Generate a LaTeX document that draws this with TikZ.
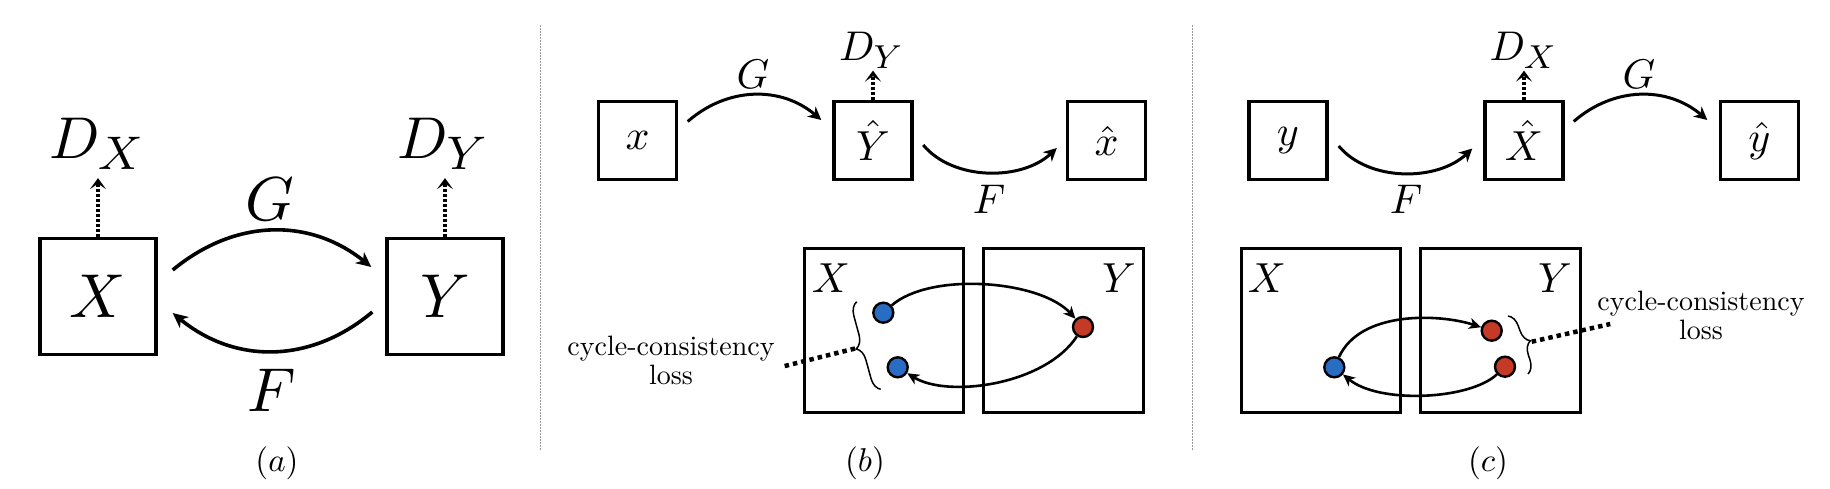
\documentclass[tikz,border=0pt]{standalone}
\usepackage{graphicx}
\usetikzlibrary{arrows.meta,decorations.pathreplacing,calc}
\definecolor{dotblue}{RGB}{40,108,196}
\definecolor{dotred}{RGB}{196,58,38}
\definecolor{sepgray}{RGB}{150,150,150}
\newcommand{\losstext}{\vbox{\baselineskip=10.4pt\halign{\hfil##\hfil\cr cycle-consistency\cr loss\cr}}}
\newcommand{\Dsub}[3]{\scalebox{#1}{$D_{\hbox{\fontsize{#2}{#2}\selectfont$#3$}}$}}
\tikzset{
  bigbox/.style={draw,line width=3.4pt,minimum width=116pt,minimum height=116pt,inner sep=0pt},
  smallbox/.style={draw,line width=3.4pt,minimum width=78pt,minimum height=78pt,inner sep=0pt},
  setbox/.style={draw,line width=3.4pt,inner sep=0pt},
  lbl/.style={inner sep=0pt,anchor=base},
  maparrow/.style={line width=3.6pt,-{Stealth[length=15pt,width=14pt,inset=4.5pt]}},
  maparrowsm/.style={line width=3pt,-{Stealth[length=13pt,width=13pt,inset=4pt]}},
  discarrow/.style={line width=3.4pt,dash pattern=on 2.6pt off 2.4pt,-{Stealth[length=11pt,width=16pt,inset=5.5pt]}},
  cyclearrow/.style={line width=2.6pt,-{Stealth[length=12pt,width=11pt,inset=3.5pt]}},
  dotnode/.style={circle,draw,line width=2.4pt,minimum size=20pt,inner sep=0pt},
  lossline/.style={line width=4.5pt,dash pattern=on 4.5pt off 4pt},
  bracestyle/.style={line width=1.5pt,decorate,decoration={brace,amplitude=13pt}},
  separator/.style={sepgray,line width=1pt,dash pattern=on 1.5pt off 1.5pt},
  losslabel/.style={inner sep=0pt},
}
\begin{document}
\begin{tikzpicture}[x=1pt,y=-1pt]
\fill[white] (0,0) rectangle (1830,488);
\useasboundingbox (0,0) rectangle (1830,488);

% separators
\coordinate (s1t) at (540,25); \coordinate (s1b) at (540,450);
\coordinate (s2t) at (1192,25); \coordinate (s2b) at (1192,450);
\draw[separator] (s1t) -- (s1b);
\draw[separator] (s2t) -- (s2b);

% ---------------- panel (a)
\node[bigbox] (X) at (98,296.5) {\scalebox{6.2}{$X$}};
\node[bigbox] (Y) at (445,296.5) {\scalebox{6.2}{$Y$}};
\node[lbl] (DX) at (97.5,158) {\Dsub{5.9}{8}{X}};
\node[lbl] (DY) at (443.5,158) {\Dsub{5.9}{8}{Y}};
\draw[discarrow] (X.north) -- ($(X.north |- DX.south)+(0,8)$);
\draw[discarrow] (Y.north) -- ($(Y.north |- DY.south)+(0,8)$);
\node[lbl] (Ga) at (270,220) {\scalebox{6.2}{$G$}};
\node[lbl] (Fa) at (272,411) {\scalebox{6.2}{$F$}};
\draw[maparrow] ($(X.east)+(15,-26.5)$) .. controls +(63,-52) and +(-61,-49) .. ($(Y.west)+(-14,-29.5)$);
\draw[maparrow] ($(Y.west)+(-13,15.5)$) .. controls +(-62,52) and +(62,51) .. ($(X.east)+(15,16.5)$);
\node[lbl] (la) at (277,471.75) {\scalebox{3.3}{$(a)$}};

% ---------------- panel (b) top
\node[smallbox] (xb) at (637.5,140.5) {\scalebox{4.2}{$x$}};
\node[smallbox] (Yhb) at (873,140.5) {\scalebox{4.2}{$\hat{Y}$}};
\node[smallbox] (xhb) at (1106.5,140.5) {\scalebox{4.2}{$\hat{x}$}};
\node[lbl] (Gb) at (753,88) {\scalebox{4.15}{$G$}};
\node[lbl] (Fb) at (989,213) {\scalebox{4.15}{$F$}};
\node[lbl] (DYb) at (871.5,60) {\Dsub{4.15}{8.5}{Y}};
\draw[discarrow] (Yhb.north) -- ($(Yhb.north |- DYb.south)+(0,2)$);
\draw[maparrowsm] ($(xb.east)+(9.5,-19)$) .. controls +(40,-35) and +(-40,-34) .. ($(Yhb.west)+(-11,-20.5)$);
\draw[maparrowsm] ($(Yhb.east)+(9.5,4.5)$) .. controls +(30,36) and +(-35,33) .. ($(xhb.west)+(-9,7.5)$);

% ---------------- panel (b) bottom
\node[setbox,minimum width=159pt,minimum height=164.5pt] (Xb) at (884,330.5) {};
\node[setbox,minimum width=160pt,minimum height=164.5pt] (Yb) at (1063.5,330.5) {};
\node[lbl] (XbL) at (831,292) {\scalebox{4.2}{$X$}};
\node[lbl] (YbL) at (1119,292) {\scalebox{4.2}{$Y$}};
\node[dotnode,fill=dotblue] (b1) at (883.3,312.7) {};
\node[dotnode,fill=dotblue] (b2) at (897.7,367.3) {};
\node[dotnode,fill=dotred] (rb) at (1083,327) {};
\draw[cyclearrow] (b1) .. controls +(47,-41) and +(-43,-47) .. (rb);
\draw[cyclearrow] (rb) .. controls +(-38,58) and +(50,31) .. (b2);
\coordinate (bbB) at (880.7,389.3);
\coordinate (bbT) at (856.7,301.7);
\draw[bracestyle] (bbB) -- (bbT);
\coordinate (btip) at (855,348.5);
\node[losslabel] (ccb) at (671,360.5) {\scalebox{2.8}{\losstext}};
\draw[lossline] (btip) -- ($(ccb.east)+(8,6)$);
\node[lbl] (lb) at (865,471.75) {\scalebox{3.3}{$(b)$}};

% ---------------- panel (c) top
\node[smallbox] (yc) at (1288,140.5) {\scalebox{4.2}{$y$}};
\node[smallbox] (Xhc) at (1524,140.5) {\scalebox{4.2}{$\hat{X}$}};
\node[smallbox] (yhc) at (1759.5,140.5) {\scalebox{4.2}{$\hat{y}$}};
\node[lbl] (Fc) at (1406,213) {\scalebox{4.15}{$F$}};
\node[lbl] (Gc) at (1639,88) {\scalebox{4.15}{$G$}};
\node[lbl] (DXc) at (1523.5,60) {\Dsub{4.15}{8.5}{X}};
\draw[discarrow] (Xhc.north) -- ($(Xhc.north |- DXc.south)+(0,2)$);
\draw[maparrowsm] ($(yc.east)+(10,5.5)$) .. controls +(30,36) and +(-35,33) .. ($(Xhc.west)+(-11,8)$);
\draw[maparrowsm] ($(Xhc.east)+(9,-19)$) .. controls +(40,-35) and +(-40,-34) .. ($(yhc.west)+(-11.5,-20.5)$);

% ---------------- panel (c) bottom
\node[setbox,minimum width=159pt,minimum height=164.5pt] (Xc) at (1320.8,330.5) {};
\node[setbox,minimum width=160pt,minimum height=164.5pt] (Yc) at (1500.3,330.5) {};
\node[lbl] (XcL) at (1267,292) {\scalebox{4.2}{$X$}};
\node[lbl] (YcL) at (1555,292) {\scalebox{4.2}{$Y$}};
\node[dotnode,fill=dotblue] (bc) at (1334.3,367.3) {};
\node[dotnode,fill=dotred] (r1) at (1491.7,330.7) {};
\node[dotnode,fill=dotred] (r2) at (1505,366.7) {};
\draw[cyclearrow] (bc) .. controls +(26,-57) and +(-52,-17) .. (r1);
\draw[cyclearrow] (r2) .. controls +(-35,33) and +(45,37) .. (bc);
\coordinate (bcT) at (1508,316);
\coordinate (bcB) at (1528,374);
\draw[bracestyle] (bcT) -- (bcB);
\coordinate (ctip) at (1531.7,341.7);
\node[losslabel] (ccc) at (1701,315) {\scalebox{2.8}{\losstext}};
\draw[lossline] (ctip) -- ($(ccc.west)+(13,9)$);
\node[lbl] (lc) at (1488,471.75) {\scalebox{3.3}{$(c)$}};
\end{tikzpicture}
\end{document}
